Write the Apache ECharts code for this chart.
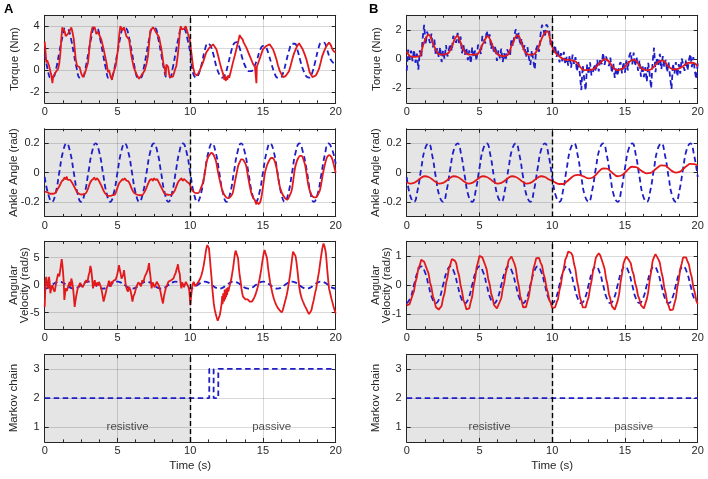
<!DOCTYPE html>
<html><head><meta charset="utf-8">
<script src="https://cdn.jsdelivr.net/npm/echarts@6/dist/echarts.min.js"></script>
<style>html,body{margin:0;padding:0;background:#fff;}#c{width:708px;height:479px;}</style>
</head><body><div id="c"></div>
<script>
// ---------------- DATA ----------------
// Panel A, torque: reference (blue dashed, 0.2 s step) and measured (red, [t, value])
const torqueA_ref = [
 1.4,0.1,-0.7,-0.65,0.2,1.6,2.9,3.8,3.75,2.9,
 1.5,0.15,-0.7,-0.7,0.15,1.55,2.95,3.8,3.8,2.9,
 1.5,0.15,-0.75,-0.7,0.2,1.6,3.0,3.85,3.8,2.95,
 1.55,0.15,-0.7,-0.7,0.15,1.55,2.95,3.8,3.8,2.9,
 1.5,0.1,-0.7,-0.7,0.2,1.6,2.95,3.8,3.75,2.9,
 1.6,-0.3,-0.7,-0.3,0.6,1.8,2.45,2.2,1.4,0.3,
 -0.4,-0.7,-0.4,0.5,1.6,2.4,2.55,2.0,1.0,0.3,
 -0.1,-0.1,0.3,1.0,1.8,2.2,2.1,1.4,0.5,-0.3,
 -0.7,-0.7,-0.2,0.8,1.8,2.4,2.4,1.7,0.7,-0.1,
 -0.6,-0.7,-0.2,0.8,1.9,2.5,2.5,1.9,1.1,0.7,
 0.6];
const torqueA_act = [[0,2.6],[0.06,1.6],[0.11,0.7],[0.17,0.9],[0.23,0.85],[0.3,0.4],[0.34,0.25],[0.42,-0.3],[0.46,-0.5],[0.53,-1.2],[0.58,-0.6],[0.69,-0.35],[0.8,-0.1],[0.92,0.1],[1.0,0.6],[1.08,1.6],[1.15,3.0],[1.21,3.9],[1.31,4.0],[1.38,3.5],[1.44,3.1],[1.6,3.3],[1.72,3.6],[1.83,3.9],[1.92,3.4],[2.0,2.8],[2.13,1.0],[2.22,0.4],[2.3,0.45],[2.4,0.25],[2.52,-0.35],[2.63,-0.65],[2.72,-0.4],[2.82,-0.05],[2.98,0.7],[3.09,2.2],[3.18,3.3],[3.28,3.9],[3.44,3.9],[3.55,3.3],[3.65,3.5],[3.73,3.4],[3.89,2.8],[4.05,1.9],[4.24,0.7],[4.35,-0.2],[4.42,0.0],[4.47,-0.1],[4.53,-0.6],[4.58,-0.5],[4.63,-0.9],[4.68,-0.4],[4.74,-0.2],[4.88,0.4],[5.04,1.9],[5.12,3.2],[5.2,4.0],[5.34,3.6],[5.45,3.9],[5.5,4.0],[5.61,3.1],[5.8,2.8],[5.96,1.3],[6.12,0.25],[6.3,-0.35],[6.48,-0.8],[6.64,-0.5],[6.75,-0.35],[6.87,-0.05],[7.0,0.6],[7.1,1.3],[7.2,2.8],[7.26,3.6],[7.45,3.9],[7.55,3.7],[7.67,3.4],[7.86,3.0],[8.02,1.9],[8.18,0.4],[8.26,0.1],[8.32,-0.5],[8.36,0.5],[8.42,0.6],[8.48,0.3],[8.59,-0.65],[8.7,-0.7],[8.82,-0.6],[8.95,0.0],[9.05,0.4],[9.15,1.4],[9.23,2.5],[9.3,3.6],[9.35,4.0],[9.44,3.7],[9.51,3.6],[9.6,3.8],[9.69,4.0],[9.78,3.6],[9.85,3.3],[9.97,2.8],[10.08,1.6],[10.2,0.25],[10.31,-0.35],[10.47,-0.5],[10.56,-0.3],[10.65,-0.05],[10.88,0.7],[11.1,1.6],[11.33,2.05],[11.45,2.2],[11.57,2.35],[11.68,2.2],[11.8,1.9],[11.92,1.3],[12.03,0.7],[12.15,0.1],[12.26,-0.35],[12.35,-0.9],[12.4,-0.5],[12.44,-1.0],[12.5,-0.6],[12.55,-0.9],[12.6,-0.5],[12.68,-0.7],[12.76,-0.3],[12.85,0.2],[12.94,0.7],[13.06,1.3],[13.17,1.9],[13.3,2.6],[13.4,3.2],[13.47,3.0],[13.52,3.0],[13.6,2.8],[13.68,2.5],[13.86,2.05],[14.09,1.3],[14.32,0.55],[14.45,0.3],[14.52,0.4],[14.55,-1.2],[14.58,0.3],[14.73,0.85],[14.87,1.4],[15.0,1.9],[15.23,2.2],[15.46,2.35],[15.58,2.2],[15.69,1.9],[15.8,1.5],[15.92,1.0],[16.04,0.4],[16.15,-0.05],[16.38,-0.65],[16.48,-0.5],[16.56,-0.55],[16.68,-0.4],[16.79,-0.1],[16.9,0.4],[17.02,1.0],[17.13,1.5],[17.25,1.9],[17.36,2.2],[17.48,2.45],[17.6,2.3],[17.71,1.95],[17.85,1.5],[17.98,1.0],[18.1,0.4],[18.21,-0.2],[18.4,-0.65],[18.52,-0.6],[18.63,-0.5],[18.75,-0.2],[18.85,0.1],[18.97,0.7],[19.08,1.3],[19.2,1.7],[19.31,2.05],[19.42,2.3],[19.54,2.5],[19.66,2.3],[19.77,1.9],[19.88,1.7],[20,1.6]];

// Panel A, ankle angle: reference (0.25 s step) and measured ([t, value])
const angleA_ref = [
 -0.03,-0.15,-0.2,-0.14,0,0.14,0.2,0.14,
 0,-0.14,-0.2,-0.14,0,0.14,0.2,0.14,
 0,-0.14,-0.2,-0.14,0,0.14,0.2,0.14,
 0,-0.14,-0.2,-0.14,0,0.14,0.2,0.14,
 0,-0.14,-0.2,-0.14,0,0.14,0.2,0.14,
 0,-0.14,-0.2,-0.14,0,0.14,0.2,0.14,
 0,-0.14,-0.2,-0.14,0,0.14,0.2,0.14,
 0,-0.14,-0.2,-0.14,0,0.14,0.2,0.14,
 0,-0.14,-0.2,-0.14,0,0.14,0.2,0.14,
 0.02,-0.13,-0.2,-0.15,-0.02,0.12,0.2,0.16,
 0.06];
const angleA_act = [[0,-0.13],[0.2,-0.135],[0.37,-0.145],[0.55,-0.145],[0.71,-0.14],[0.88,-0.115],[1.05,-0.085],[1.17,-0.06],[1.28,-0.05],[1.36,-0.035],[1.45,-0.045],[1.51,-0.03],[1.6,-0.05],[1.74,-0.05],[1.85,-0.065],[1.97,-0.085],[2.1,-0.11],[2.2,-0.13],[2.36,-0.145],[2.54,-0.15],[2.7,-0.148],[2.84,-0.14],[2.98,-0.11],[3.12,-0.07],[3.25,-0.05],[3.33,-0.045],[3.41,-0.035],[3.5,-0.05],[3.6,-0.04],[3.69,-0.05],[3.8,-0.07],[3.92,-0.095],[4.08,-0.13],[4.22,-0.15],[4.36,-0.16],[4.49,-0.16],[4.66,-0.155],[4.83,-0.15],[4.98,-0.11],[5.13,-0.07],[5.27,-0.055],[5.35,-0.045],[5.41,-0.05],[5.5,-0.04],[5.62,-0.055],[5.75,-0.06],[5.86,-0.08],[5.98,-0.11],[6.15,-0.14],[6.32,-0.15],[6.5,-0.155],[6.67,-0.155],[6.85,-0.135],[7.01,-0.1],[7.13,-0.07],[7.24,-0.05],[7.35,-0.045],[7.43,-0.055],[7.51,-0.04],[7.63,-0.05],[7.72,-0.045],[7.81,-0.06],[7.96,-0.09],[8.11,-0.12],[8.25,-0.145],[8.38,-0.15],[8.55,-0.152],[8.73,-0.15],[8.9,-0.13],[9.03,-0.1],[9.17,-0.065],[9.3,-0.05],[9.4,-0.04],[9.5,-0.055],[9.58,-0.045],[9.65,-0.05],[9.8,-0.065],[9.94,-0.075],[10.08,-0.11],[10.22,-0.13],[10.4,-0.14],[10.56,-0.14],[10.72,-0.11],[10.9,-0.06],[11.02,0.005],[11.13,0.075],[11.25,0.11],[11.36,0.125],[11.46,0.135],[11.55,0.13],[11.66,0.11],[11.78,0.075],[11.92,0.0],[12.05,-0.06],[12.2,-0.12],[12.33,-0.15],[12.48,-0.17],[12.62,-0.175],[12.77,-0.165],[12.92,-0.14],[13.06,-0.07],[13.2,0.0],[13.31,0.05],[13.42,0.075],[13.5,0.09],[13.6,0.09],[13.72,0.075],[13.84,0.05],[13.98,-0.03],[14.11,-0.1],[14.23,-0.15],[14.34,-0.175],[14.45,-0.19],[14.53,-0.215],[14.57,-0.2],[14.7,-0.215],[14.85,-0.19],[15.0,-0.1],[15.14,0.0],[15.28,0.05],[15.44,0.085],[15.56,0.1],[15.67,0.1],[15.8,0.08],[15.94,0.03],[16.05,-0.04],[16.17,-0.1],[16.31,-0.14],[16.45,-0.165],[16.57,-0.18],[16.68,-0.185],[16.83,-0.16],[16.98,-0.12],[17.1,-0.04],[17.2,0.03],[17.32,0.075],[17.43,0.1],[17.55,0.115],[17.66,0.115],[17.78,0.09],[17.9,0.05],[18.0,-0.01],[18.12,-0.085],[18.27,-0.14],[18.42,-0.165],[18.55,-0.17],[18.65,-0.17],[18.78,-0.15],[18.92,-0.12],[19.05,-0.05],[19.15,0.007],[19.27,0.06],[19.38,0.1],[19.47,0.115],[19.56,0.12],[19.68,0.11],[19.79,0.085],[19.9,0.04],[20,0.0]];

// Panel A, angular velocity: reference (0.25 s step) and measured ([t, value])
const velA_ref = [
 -0.63,-0.45,0,0.45,0.63,0.45,0,-0.45,
 -0.63,-0.45,0,0.45,0.63,0.45,0,-0.45,
 -0.63,-0.45,0,0.45,0.63,0.45,0,-0.45,
 -0.63,-0.45,0,0.45,0.63,0.45,0,-0.45,
 -0.63,-0.45,0,0.45,0.63,0.45,0,-0.45,
 -0.63,-0.45,0,0.45,0.63,0.45,0,-0.45,
 -0.63,-0.45,0,0.45,0.63,0.45,0,-0.45,
 -0.63,-0.45,0,0.45,0.63,0.45,0,-0.45,
 -0.63,-0.45,0,0.45,0.63,0.45,0,-0.45,
 -0.63,-0.45,0,0.45,0.63,0.45,0,-0.45,
 -0.63];
const velA_act = [[0,-4.0],[0.03,-1.5],[0.06,1.0],[0.11,1.5],[0.17,0.2],[0.23,-0.6],[0.3,1.5],[0.35,0.3],[0.39,-1.5],[0.46,-0.4],[0.53,0],[0.6,-0.8],[0.69,-1.2],[0.75,-0.2],[0.8,0.6],[0.86,0.3],[0.92,2.1],[1.0,1.6],[1.08,3.0],[1.17,4.75],[1.22,3.6],[1.26,2.4],[1.31,0.5],[1.35,-2.7],[1.4,-1.6],[1.44,-0.6],[1.52,-1.1],[1.6,-0.9],[1.66,0.2],[1.72,0.6],[1.78,-0.3],[1.83,1.2],[1.9,0.4],[1.95,-0.6],[2.0,-2.0],[2.06,-4.0],[2.12,-2.8],[2.18,-1.8],[2.27,-0.6],[2.36,-0.3],[2.44,0.4],[2.52,0.6],[2.6,-0.4],[2.68,0],[2.76,0.5],[2.86,0.9],[2.94,0.5],[3.02,1.8],[3.08,2.3],[3.14,3.5],[3.2,2.8],[3.25,1.5],[3.32,-0.6],[3.38,0.3],[3.44,0.9],[3.5,-0.2],[3.55,-0.3],[3.62,0.5],[3.68,-0.1],[3.73,0.6],[3.8,0.1],[3.89,-0.6],[3.97,-1.8],[4.05,-3.0],[4.12,-2.2],[4.19,-1.5],[4.27,-0.5],[4.35,0],[4.41,0.8],[4.47,0.6],[4.55,-0.3],[4.6,0.7],[4.65,0.3],[4.72,0.8],[4.81,0.6],[4.88,1.0],[4.97,1.8],[5.04,2.6],[5.11,3.65],[5.16,2.8],[5.22,2.1],[5.28,1.2],[5.34,0.9],[5.4,1.9],[5.45,2.75],[5.51,1.4],[5.57,0],[5.65,-0.8],[5.73,-1.2],[5.8,-0.3],[5.89,-0.9],[5.96,-1.8],[6.03,-3.0],[6.1,-2.0],[6.19,-1.5],[6.27,-0.6],[6.35,0],[6.44,0.5],[6.53,0.3],[6.62,-0.2],[6.71,0.9],[6.79,0.5],[6.87,1.5],[6.95,1.2],[7.03,2.4],[7.1,3.0],[7.17,4.0],[7.22,2.6],[7.26,1.8],[7.31,0.4],[7.35,-0.6],[7.42,0.5],[7.49,0.6],[7.56,-0.4],[7.63,-0.3],[7.7,0.6],[7.79,0.6],[7.85,-0.1],[7.9,-0.6],[7.96,-1.2],[8.02,-2.1],[8.08,-2.8],[8.13,-3.35],[8.2,-2.0],[8.27,-1.2],[8.34,-0.4],[8.41,0],[8.5,0.6],[8.59,0.3],[8.68,0.9],[8.77,0.9],[8.85,1.2],[8.93,1.8],[9.0,2.2],[9.05,2.75],[9.11,3.3],[9.16,3.8],[9.22,2.6],[9.28,2.1],[9.33,0.6],[9.39,-0.6],[9.45,0.5],[9.51,0.6],[9.57,-0.4],[9.62,0],[9.7,0.6],[9.78,0.3],[9.85,-0.2],[9.92,-0.6],[9.97,-2.0],[10.01,-3.65],[10.05,-2.4],[10.1,-1.2],[10.17,0.2],[10.24,0.6],[10.33,-0.2],[10.42,0],[10.5,0.3],[10.61,0.6],[10.69,1.2],[10.77,1.8],[10.85,2.6],[10.93,3.65],[11.0,4.8],[11.07,6.1],[11.13,6.9],[11.18,7.3],[11.24,7.1],[11.29,6.7],[11.35,5.0],[11.41,3.0],[11.47,1.2],[11.52,-0.6],[11.57,-2.0],[11.62,-3.35],[11.68,-4.4],[11.75,-5.2],[11.82,-5.9],[11.89,-6.5],[11.96,-6.2],[12.03,-5.5],[12.1,-4.5],[12.16,-3.4],[12.2,-2.0],[12.23,-3.5],[12.27,-1.5],[12.3,-1.2],[12.33,-3.0],[12.37,-0.8],[12.4,-2.6],[12.44,-1.0],[12.47,-2.2],[12.5,-0.6],[12.54,-1.8],[12.58,-0.4],[12.62,-1.2],[12.67,-0.6],[12.75,0.3],[12.83,1.2],[12.89,2.2],[12.94,3.0],[13.0,4.2],[13.06,5.5],[13.12,6.3],[13.17,6.6],[13.23,6.0],[13.29,4.9],[13.35,3.0],[13.4,1.8],[13.46,0.8],[13.52,-0.6],[13.57,-1.4],[13.63,-2.1],[13.72,-2.4],[13.8,-2.6],[13.86,-2.75],[13.95,-2.6],[14.02,-2.9],[14.09,-3.0],[14.17,-2.8],[14.25,-3.0],[14.32,-2.75],[14.4,-2.3],[14.48,-1.8],[14.55,-1.2],[14.64,-0.4],[14.73,0.6],[14.81,1.7],[14.89,3.0],[14.97,4.5],[15.05,5.8],[15.11,6.4],[15.17,6.7],[15.22,6.1],[15.28,4.9],[15.35,3.2],[15.42,1.8],[15.5,0.4],[15.58,-0.6],[15.66,-1.6],[15.74,-2.4],[15.83,-3.1],[15.92,-3.65],[16.03,-4.2],[16.15,-4.6],[16.22,-4.8],[16.29,-5.0],[16.36,-4.6],[16.43,-3.9],[16.52,-3.0],[16.61,-2.1],[16.7,-0.9],[16.79,0.6],[16.87,2.0],[16.95,3.65],[17.01,5.0],[17.07,6.1],[17.12,6.3],[17.18,6.4],[17.24,5.3],[17.3,4.3],[17.37,2.7],[17.43,1.2],[17.5,-0.4],[17.57,-1.5],[17.66,-2.4],[17.75,-3.0],[17.86,-3.7],[17.98,-4.3],[18.08,-4.9],[18.17,-5.3],[18.25,-5.0],[18.33,-4.6],[18.41,-3.6],[18.49,-2.75],[18.57,-1.6],[18.66,-0.6],[18.75,0.9],[18.85,2.4],[18.93,4.0],[19.01,5.5],[19.08,6.7],[19.16,7.6],[19.22,7.2],[19.31,6.1],[19.37,4.5],[19.43,2.4],[19.49,0.8],[19.54,-0.6],[19.62,-1.5],[19.7,-2.4],[19.78,-3.2],[19.86,-4.0],[19.93,-4.6],[20,-5.2]];

// Panel A, Markov chain state ([t, state])
const markovA = [[0,2],[11.31,2],[11.31,3],[11.61,3],[11.61,2],[11.93,2],[11.93,3],[20,3]];

// Panel B, torque: reference (blue, 0.1 s step, noisy) and measured (red, 0.1 s step)
const torqueB_ref = [
 -0.8,0.65,0.02,0.58,-0.14,0.65,-0.25,0.37,-0.72,0.6,
 0.15,1.45,2.35,1.0,1.88,1.78,1.1,1.75,0.8,1.35,
 0.25,0.75,0.15,0.82,-0.2,0.6,0.02,0.95,0.18,0.65,
 1.05,0.55,1.6,1.68,1.12,1.8,1.1,1.55,0.4,0.95,
 0.3,0.78,-0.07,0.6,-0.3,0.8,0.1,0.6,-0.1,0.98,
 0.8,0.35,1.58,1.35,1.08,1.95,1.38,1.7,0.7,1.1,
 0.38,0.9,-0.12,0.6,0.05,0.72,-0.2,0.4,-0.08,0.66,
 0.55,0.2,1.4,0.9,1.65,2.05,1.32,1.8,0.95,1.4,
 0.6,0.95,0.12,0.82,0.1,-0.4,0.6,-0.08,-0.72,0.7,
 0.95,0.5,1.7,2.35,2.05,1.5,2.38,2.2,1.9,0.9,
 1.25,0.35,0.95,0.15,0.65,-0.23,0.4,-0.15,0.5,-0.35,
 0.15,-0.45,0.25,-0.58,0.3,-0.33,0.13,-0.85,-0.18,-1.0,
 -2.12,-0.42,-1.35,-2.15,-0.35,-1.05,-0.23,-1.12,-0.9,-0.35,
 -0.85,-0.05,-0.85,0.05,-0.35,0.43,-0.4,0.18,0.22,-0.48,
 0.1,-0.95,-0.28,-1.28,-0.55,-1.15,-0.43,-0.2,-0.98,-0.2,
 -0.92,-0.08,-0.77,0.22,0.48,-0.37,0.45,-0.48,0.15,-0.8,
 -0.08,-1.2,-0.38,-1.23,-0.55,-1.55,-0.25,-1.04,-2.0,-0.22,
 0.78,-0.9,0.12,-0.5,0.36,-0.7,0.2,-0.55,-0.05,-0.9,
 -0.22,-1.2,-2.05,-0.3,-1.0,-0.2,-1.18,-0.35,-1.0,0.05,
 0.02,-0.8,-0.03,-0.77,-0.05,0.35,-0.55,0.14,-0.8,-1.38,
 -0.3];
const torqueB_act = [
 0.5,0.35,0.22,0.18,0.16,0.15,0.15,0.17,0.18,0.2,
 0.45,0.85,1.15,1.4,1.58,1.68,1.6,1.35,1.1,0.85,
 0.65,0.45,0.35,0.32,0.3,0.3,0.32,0.35,0.38,0.45,
 0.65,0.85,1.1,1.38,1.52,1.6,1.4,1.15,0.9,0.65,
 0.5,0.38,0.33,0.3,0.3,0.3,0.3,0.3,0.3,0.38,
 0.5,0.75,0.98,1.15,1.38,1.55,1.58,1.4,1.2,0.9,
 0.68,0.5,0.38,0.3,0.25,0.22,0.2,0.2,0.22,0.26,
 0.35,0.6,0.9,1.1,1.35,1.55,1.62,1.6,1.35,1.1,
 0.8,0.55,0.42,0.32,0.3,0.3,0.3,0.32,0.38,0.5,
 0.65,0.9,1.2,1.45,1.65,1.8,1.88,1.9,1.6,1.2,
 0.85,0.65,0.45,0.35,0.25,0.17,0.1,0.05,0.0,-0.05,
 -0.05,-0.05,-0.05,-0.08,-0.1,-0.13,-0.17,-0.25,-0.38,-0.5,
 -0.62,-0.72,-0.75,-0.75,-0.75,-0.75,-0.73,-0.72,-0.7,-0.65,
 -0.55,-0.45,-0.35,-0.25,-0.15,-0.07,0.0,-0.02,-0.08,-0.18,
 -0.3,-0.45,-0.58,-0.68,-0.75,-0.75,-0.73,-0.7,-0.68,-0.6,
 -0.52,-0.38,-0.27,-0.18,-0.12,-0.07,-0.05,-0.08,-0.15,-0.3,
 -0.48,-0.6,-0.68,-0.73,-0.75,-0.75,-0.75,-0.74,-0.7,-0.62,
 -0.52,-0.4,-0.28,-0.2,-0.14,-0.1,-0.1,-0.15,-0.25,-0.4,
 -0.52,-0.6,-0.65,-0.7,-0.7,-0.7,-0.68,-0.65,-0.6,-0.55,
 -0.48,-0.4,-0.33,-0.27,-0.25,-0.25,-0.25,-0.26,-0.3,-0.38,
 -0.5];

// Panel B, ankle angle (0.25 s step)
const angleB_ref = [
 -0.03,-0.16,-0.2,-0.12,0.03,0.16,0.2,0.12,
 -0.03,-0.16,-0.2,-0.12,0.03,0.16,0.2,0.12,
 -0.03,-0.16,-0.2,-0.12,0.03,0.16,0.2,0.12,
 -0.03,-0.16,-0.2,-0.12,0.03,0.16,0.2,0.12,
 -0.03,-0.16,-0.2,-0.12,0.03,0.16,0.2,0.12,
 -0.03,-0.16,-0.2,-0.12,0.03,0.16,0.2,0.12,
 -0.03,-0.16,-0.2,-0.12,0.03,0.16,0.2,0.12,
 -0.03,-0.16,-0.2,-0.12,0.03,0.16,0.2,0.12,
 -0.03,-0.16,-0.2,-0.12,0.03,0.16,0.2,0.12,
 -0.03,-0.16,-0.2,-0.12,0.03,0.16,0.2,0.12,
 -0.03];
const angleB_act = [
 -0.065,-0.075,-0.07,-0.054,-0.035,-0.025,-0.03,-0.046,
 -0.065,-0.075,-0.07,-0.054,-0.035,-0.025,-0.03,-0.046,
 -0.065,-0.075,-0.07,-0.054,-0.035,-0.025,-0.03,-0.046,
 -0.065,-0.075,-0.07,-0.054,-0.035,-0.025,-0.03,-0.046,
 -0.065,-0.075,-0.07,-0.054,-0.035,-0.025,-0.03,-0.046,
 -0.056,-0.07,-0.078,-0.078,-0.062,-0.04,-0.022,-0.015,-0.02,-0.03,
 -0.04,-0.035,-0.015,0.012,0.028,0.027,0.01,-0.012,-0.025,-0.02,
 0.0,0.025,0.04,0.038,0.022,0.005,-0.005,-0.002,0.015,0.035,
 0.05,0.048,0.03,0.01,0.0,0.005,0.025,0.045,0.06,0.058,
 0.05];

// Panel B, angular velocity: reference (0.25 s step), measured (0.1 s step)
const velB_ref = [
 -0.62,-0.45,0,0.45,0.64,0.45,0,-0.45,
 -0.62,-0.45,0,0.45,0.64,0.45,0,-0.45,
 -0.62,-0.45,0,0.45,0.64,0.45,0,-0.45,
 -0.62,-0.45,0,0.45,0.64,0.45,0,-0.45,
 -0.62,-0.45,0,0.45,0.64,0.45,0,-0.45,
 -0.62,-0.45,0,0.45,0.64,0.45,0,-0.45,
 -0.62,-0.45,0,0.45,0.64,0.45,0,-0.45,
 -0.62,-0.45,0,0.45,0.64,0.45,0,-0.45,
 -0.62,-0.45,0,0.45,0.64,0.45,0,-0.45,
 -0.62,-0.45,0,0.45,0.64,0.45,0,-0.45,
 -0.58];
const velB_act = [
 -0.7,-0.73,-0.65,-0.62,-0.35,-0.21,0.1,0.27,0.58,0.68,
 0.87,0.86,0.80,0.76,0.53,0.40,0.10,-0.08,-0.38,-0.52,
 -0.75,-0.78,-0.84,-0.78,-0.71,-0.45,-0.28,0.06,0.26,0.57,
 0.70,0.89,0.88,0.84,0.76,0.50,0.33,0.0,-0.21,-0.51,
 -0.64,-0.83,-0.82,-0.80,-0.58,-0.40,-0.03,0.22,0.60,0.78,
 1.0,1.03,0.95,0.92,0.68,0.53,0.22,0.03,-0.28,-0.44,
 -0.68,-0.72,-0.80,-0.76,-0.57,-0.45,-0.13,0.07,0.40,0.59,
 0.84,0.91,0.98,0.95,0.74,0.57,0.21,-0.02,-0.37,-0.54,
 -0.76,-0.76,-0.75,-0.55,-0.38,-0.04,0.20,0.54,0.71,0.92,
 0.92,0.93,0.77,0.67,0.40,0.23,-0.07,-0.25,-0.51,-0.61,
 -0.78,-0.75,-0.76,-0.60,-0.47,-0.17,0.03,0.37,0.57,0.87,
 0.98,1.15,1.12,1.10,1.01,0.73,0.53,0.16,-0.08,-0.41,
 -0.56,-0.76,-0.76,-0.76,-0.57,-0.42,-0.10,0.13,0.47,0.67,
 0.94,1.02,1.09,1.02,0.97,0.72,0.56,0.23,0.02,-0.31,
 -0.48,-0.72,-0.78,-0.84,-0.79,-0.54,-0.31,0.10,0.39,0.74,
 0.88,0.98,0.96,0.83,0.75,0.50,0.36,0.07,-0.10,-0.37,
 -0.49,-0.69,-0.72,-0.80,-0.74,-0.48,-0.24,0.17,0.46,0.82,
 0.96,1.06,1.03,0.88,0.76,0.46,0.26,-0.08,-0.28,-0.58,
 -0.70,-0.86,-0.85,-0.84,-0.63,-0.45,-0.08,0.18,0.55,0.73,
 0.95,0.96,0.95,0.81,0.70,0.43,0.25,-0.07,-0.25,-0.52,
 -0.64];

// Panel B, Markov chain state
const markovB = [[0,2],[20,2]];

// Axis ticks and labels
const xTicksStep = 5;
const yTicks = {
  torqueA:[-2,0,2,4], torqueB:[-2,0,2], angle:[-0.2,0,0.2],
  velA:[-5,0,5], velB:[-1,0,1], markov:[1,2,3]
};
const phaseText = ['resistive','passive'];
const phaseTextT = [5.7, 15.6];
const phaseTextY = [1, 1];
const phaseBoundary = 10;
const panelLetters = ['A','B'];

// ---------------- BUILD ----------------
const FONT = '"Liberation Sans", Arial, Helvetica, sans-serif';
const INK = '#262626', RED = '#e3191c', BLUE = '#1e1ec8', GRIDC = 'rgba(0,0,0,0.15)';
function fixed(values, dt){ return values.map((v,i)=>[Math.round(i*dt*1000)/1000, v]); }

const GRID_LEFT = [44.7, 406.7], GRID_W = 291;
const GRID_TOP = [15.3, 128.8, 241.3, 354.3], GRID_H = 87.6;
const TICK_FS = 11, NAME_FS = 11.5;

const panels = [
 {c:0,r:0,name:'Torque (Nm)',min:-3,max:5,ticks:yTicks.torqueA,ref:fixed(torqueA_ref,0.2),act:torqueA_act,rs:0.4,as:false,gap:24},
 {c:0,r:1,name:'Ankle Angle (rad)',min:-0.3,max:0.3,ticks:yTicks.angle,ref:fixed(angleA_ref,0.25),act:angleA_act,rs:0.5,as:0.3,gap:25},
 {c:0,r:2,name:'Angular\nVelocity (rad/s)',min:-8,max:8,ticks:yTicks.velA,ref:fixed(velA_ref,0.25),act:velA_act,rs:0.5,as:false,gap:14},
 {c:0,r:3,name:'Markov chain',min:0.5,max:3.5,ticks:yTicks.markov,ref:markovA,act:null,rs:false,gap:25,text:true},
 {c:1,r:0,name:'Torque (Nm)',min:-3,max:3,ticks:yTicks.torqueB,ref:fixed(torqueB_ref,0.1),act:fixed(torqueB_act,0.1),rs:false,as:0.3,gap:24},
 {c:1,r:1,name:'Ankle Angle (rad)',min:-0.3,max:0.3,ticks:yTicks.angle,ref:fixed(angleB_ref,0.25),act:fixed(angleB_act,0.25),rs:0.5,as:0.5,gap:25},
 {c:1,r:2,name:'Angular\nVelocity (rad/s)',min:-1.5,max:1.5,ticks:yTicks.velB,ref:fixed(velB_ref,0.25),act:fixed(velB_act,0.1),rs:0.5,as:false,gap:14},
 {c:1,r:3,name:'Markov chain',min:0.5,max:3.5,ticks:yTicks.markov,ref:markovB,act:null,rs:false,gap:25,text:true}
];

const option = {
  animation:false, backgroundColor:'#fff', textStyle:{fontFamily:FONT},
  title: panelLetters.map((L,i)=>({text:L,left:i===0?4:369,top:3,padding:0,textStyle:{fontFamily:FONT,fontSize:13,fontWeight:'bold',color:'#000'}})),
  grid:[], xAxis:[], yAxis:[], series:[]
};
const tickStyle = {color:INK,width:1};
panels.forEach((p,g)=>{
  option.grid.push({left:GRID_LEFT[p.c],top:GRID_TOP[p.r],width:GRID_W,height:GRID_H});
  const bottom = p.r===3;
  option.xAxis.push({gridIndex:g,type:'value',position:'bottom',min:0,max:20,interval:xTicksStep,
    axisLine:{show:true,onZero:false,lineStyle:tickStyle},
    axisTick:{show:true,inside:true,length:4,lineStyle:tickStyle},
    minorTick:{show:true,splitNumber:4,length:2.5,lineStyle:tickStyle},
    axisLabel:{show:true,margin:4,color:INK,fontSize:TICK_FS,fontFamily:FONT,showMinLabel:true,showMaxLabel:true},
    splitLine:{show:true,lineStyle:{color:GRIDC,width:1}},
    name:bottom?'Time (s)':'',nameLocation:'middle',nameGap:18,nameMoveOverlap:false,
    nameTextStyle:{color:INK,fontSize:NAME_FS,fontFamily:FONT}});
  option.xAxis.push({gridIndex:g,type:'value',position:'top',min:0,max:20,interval:xTicksStep,
    axisLine:{show:true,onZero:false,lineStyle:tickStyle},
    axisTick:{show:true,inside:true,length:4,lineStyle:tickStyle},
    minorTick:{show:true,splitNumber:4,length:2.5,lineStyle:tickStyle},
    axisLabel:{show:false},splitLine:{show:false}});
  option.yAxis.push({gridIndex:g,type:'value',position:'left',min:p.min,max:p.max,
    axisLine:{show:true,onZero:false,lineStyle:tickStyle},
    axisTick:{show:true,inside:true,length:4,customValues:p.ticks,lineStyle:tickStyle},
    axisLabel:{show:true,customValues:p.ticks,margin:5,color:INK,fontSize:TICK_FS,fontFamily:FONT,formatter:v=>String(v)},
    splitLine:{show:true,lineStyle:{color:GRIDC,width:1}},
    name:p.name,nameLocation:'middle',nameGap:p.gap,nameMoveOverlap:false,
    nameTextStyle:{color:INK,fontSize:NAME_FS,fontFamily:FONT,lineHeight:11}});
  option.yAxis.push({gridIndex:g,type:'value',position:'right',min:p.min,max:p.max,
    axisLine:{show:true,onZero:false,lineStyle:tickStyle},
    axisTick:{show:true,inside:true,length:4,customValues:p.ticks,lineStyle:tickStyle},
    axisLabel:{show:false},splitLine:{show:false}});
  const xi = 2*g, yi = 2*g;
  option.series.push({type:'line',xAxisIndex:xi,yAxisIndex:yi,data:p.ref,symbol:'none',silent:true,smooth:p.rs,
    lineStyle:{color:BLUE,width:1.8,type:[5.5,3.5]},z:3,
    markArea:{silent:true,itemStyle:{color:'rgba(0,0,0,0.1)'},data:[[{xAxis:0},{xAxis:phaseBoundary}]]},
    markLine:{silent:true,symbol:['none','none'],label:{show:false},lineStyle:{color:'#000',type:[5,3],width:1.4},data:[{xAxis:phaseBoundary}]}
  });
  if (p.act) option.series.push({type:'line',xAxisIndex:xi,yAxisIndex:yi,data:p.act,symbol:'none',silent:true,smooth:p.as,
    lineStyle:{color:RED,width:1.8},z:4});
  if (p.text) option.series.push({type:'scatter',xAxisIndex:xi,yAxisIndex:yi,symbolSize:1,silent:true,
    itemStyle:{color:'rgba(0,0,0,0)'},
    data:phaseText.map((s,i)=>({name:s,value:[phaseTextT[i],phaseTextY[i]]})),
    label:{show:true,position:'inside',formatter:'{b}',color:INK,fontSize:NAME_FS,fontFamily:FONT},z:6});
});
const chart = echarts.init(document.getElementById('c'),null,{renderer:'canvas'});
chart.setOption(option);
</script></body></html>
